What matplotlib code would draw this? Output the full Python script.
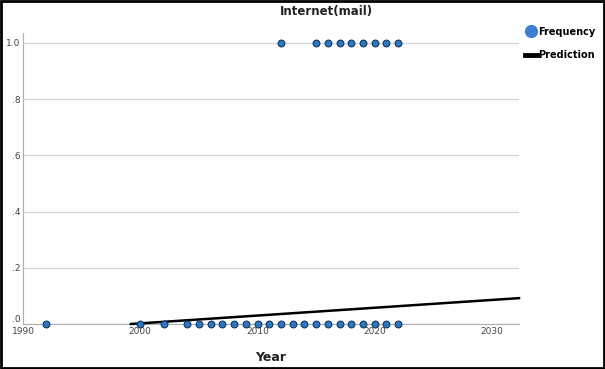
import matplotlib.pyplot as plt
from matplotlib.lines import Line2D

# observed data
years_zero = [1992, 2000, 2002] + list(range(2004, 2023))
vals_zero = [0] * len(years_zero)
years_one = [2012, 2015, 2016, 2017, 2018, 2019, 2020, 2021, 2022]
vals_one = [1] * len(years_one)

# prediction line (end points)
pred_years = [1999.2, 2032.3]
pred_vals = [0.0, 0.092]

yticks = [0, 0.2, 0.4, 0.6, 0.8, 1.0]
ytick_labels = ['.0', '.2', '.4', '.6', '.8', '1.0']
xticks = [1990, 2000, 2010, 2020, 2030]

fig = plt.figure(figsize=(6.05, 3.69), dpi=100)
ax = fig.add_axes([23/605, 1 - 324/369, (519-23)/605, (324-33)/369])

dot_face = '#2a78c4'
dot_edge = '#17375c'
ax.scatter(years_zero + years_one, vals_zero + vals_one, s=24, c=dot_face,
           edgecolors=dot_edge, linewidths=0.8, zorder=4, clip_on=False)
ax.plot(pred_years, pred_vals, color='black', lw=1.8, zorder=3, clip_on=False)

ax.set_xlim(1990, 2032.3)
ax.set_ylim(0, 1.035)
ax.set_yticks(yticks)
ax.set_yticklabels(ytick_labels)
ax.set_xticks(xticks)
for y in yticks:
    ax.axhline(y, color='#d4d4d4', lw=0.9, zorder=1)

for s in ['top', 'right']:
    ax.spines[s].set_visible(False)
ax.spines['left'].set_color('#b0b0b0')
ax.spines['bottom'].set_color('#b0b0b0')
ax.tick_params(length=0, labelsize=6.5, colors='#444444', pad=2)
ax.tick_params(axis='y', pad=2)
# the ".0" label sits just above the x axis
ax.get_yticklabels()[0].set_verticalalignment('bottom')

ax.set_xlabel('Year', fontsize=9, fontweight='bold', labelpad=11, color='#222222')
fig.text(326/605, 1 - 11/369, 'Internet(mail)', ha='center', va='center',
         fontsize=8.5, fontweight='bold', color='#222222')

handles = [
    Line2D([], [], marker='o', ls='none', markersize=8.5, markerfacecolor='#3d7fd0',
           markeredgecolor='#3d7fd0', label='Frequency'),
    Line2D([], [], color='black', lw=3.5, label='Prediction'),
]
fig.legend(handles=handles, loc='upper left', bbox_to_anchor=(521/605, 1 - 23/369),
           frameon=False, handlelength=1.2, handletextpad=0.2,
           labelspacing=1.35, borderaxespad=0, prop={'weight': 'bold', 'size': 7})

# black frame around the figure
fig.patches.append(plt.Rectangle((0.002, 0.002), 0.996, 0.996, transform=fig.transFigure,
                                 fill=False, edgecolor='black', lw=2))

fig.savefig('out.png', dpi=100)
